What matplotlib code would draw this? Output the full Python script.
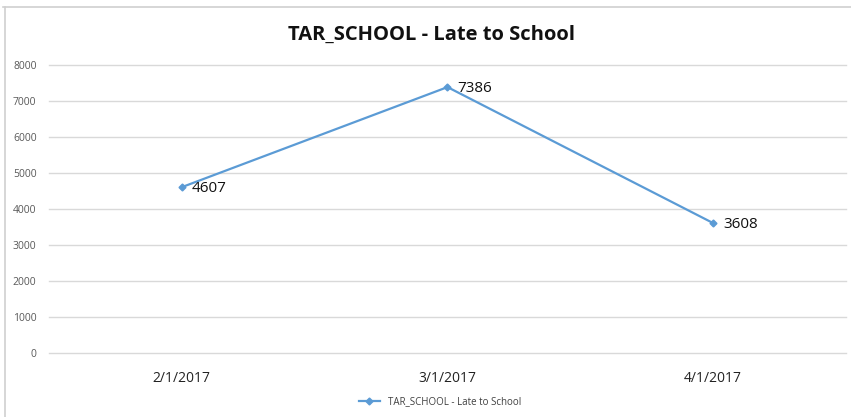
import matplotlib.pyplot as plt
from matplotlib.lines import Line2D

plt.rcParams['font.family'] = ['Open Sans', 'DejaVu Sans']

dates = ["2/1/2017", "3/1/2017", "4/1/2017"]
late_counts = [4607, 7386, 3608]
series_name = "TAR_SCHOOL - Late to School"

W, H = 851, 417
fig = plt.figure(figsize=(W / 100, H / 100), dpi=100)
ax = fig.add_axes([49 / W, (H - 353) / H, (846 - 49) / W, (353 - 65) / H])

x = list(range(len(dates)))
line_color = '#5B9BD5'
ax.plot(x, late_counts, color=line_color, linewidth=1.6, marker='D', markersize=3.5,
        label=series_name, zorder=3)
for xi, v in zip(x, late_counts):
    ax.annotate(str(v), (xi, v), xytext=(7, -1), textcoords='offset points',
                fontsize=11, color='#111111', va='center', ha='left')

ax.set_xlim(-0.5, 2.5)
ax.set_ylim(0, 8000)
ax.set_yticks(range(0, 8001, 1000))
ax.set_xticks(x)
ax.set_xticklabels(dates, fontsize=10, color='#222222')
ax.tick_params(axis='y', labelsize=7.5, colors='#595959', length=0, pad=9)
ax.tick_params(axis='x', length=0, pad=13)
ax.grid(axis='y', color='#D9D9D9', linewidth=1)
for gl in ax.get_ygridlines():
    gl.set_clip_on(False)
ax.set_axisbelow(True)
for s in ax.spines.values():
    s.set_visible(False)

fig.text(432 / W, 1 - 35 / H, "TAR_SCHOOL - Late to School", ha='center', va='center',
         fontsize=14.5, fontweight='bold', color='#111111')

leg = fig.legend(loc='center', bbox_to_anchor=(440 / W, 1 - 402 / H), frameon=False,
                 fontsize=7, handlelength=2.2, labelcolor='#404040')

# outer chart border (top and left visible)
fig.add_artist(Line2D([3 / W, 1], [1 - 7 / H, 1 - 7 / H], transform=fig.transFigure,
                      color='#D0D0D0', linewidth=1.2))
fig.add_artist(Line2D([5 / W, 5 / W], [0, 1 - 7 / H], transform=fig.transFigure,
                      color='#D0D0D0', linewidth=1.2))

fig.savefig('out.png', dpi=100)
